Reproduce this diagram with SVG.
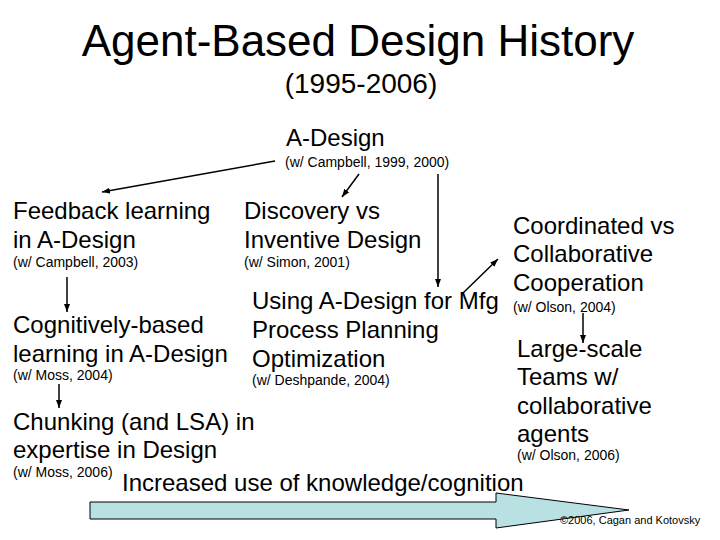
<svg xmlns="http://www.w3.org/2000/svg" width="720" height="540" viewBox="0 0 720 540">
<style>
text{font-family:"Liberation Sans",Arial,sans-serif;fill:#000}
.t{font-size:44px}
.st{font-size:28px}
.b{font-size:24px}
.s{font-size:14px}
.c{font-size:11px}
.con line{stroke:#000;stroke-width:1.5;fill:none}
</style>
<defs>
<marker id="ah" viewBox="0 0 8 6" refX="8" refY="3" markerWidth="8" markerHeight="6" markerUnits="userSpaceOnUse" orient="auto">
<path d="M0,0 L8,3 L0,6 z" fill="#000"/>
</marker>
</defs>
<rect width="720" height="540" fill="#fff"/>
<g id="title">
<text class="t" x="358" y="56" text-anchor="middle">Agent-Based Design History</text>
<text class="st" x="361" y="93" text-anchor="middle">(1995-2006)</text>
</g>
<g id="progress">
<path d="M90,502 L496,502 L496,493 L629,510 L496,528 L496,519 L90,519 Z" fill="#b9e0e3" stroke="#000" stroke-width="1"/>
<text class="b" x="122" y="491">Increased use of knowledge/cognition</text>
</g>
<g id="a-design">
<text class="b" x="286" y="146">A-Design</text>
<text class="s" x="285" y="167">(w/ Campbell, 1999, 2000)</text>
</g>
<g id="feedback">
<text class="b" x="13" y="219">Feedback learning</text>
<text class="b" x="13" y="248">in A-Design</text>
<text class="s" x="13" y="267">(w/ Campbell, 2003)</text>
</g>
<g id="cognitive">
<text class="b" x="13" y="333">Cognitively-based</text>
<text class="b" x="13" y="362">learning in A-Design</text>
<text class="s" x="13" y="380">(w/ Moss, 2004)</text>
</g>
<g id="chunking">
<text class="b" x="13" y="430">Chunking (and LSA) in</text>
<text class="b" x="13" y="458">expertise in Design</text>
<text class="s" x="13" y="477">(w/ Moss, 2006)</text>
</g>
<g id="discovery">
<text class="b" x="244" y="219">Discovery vs</text>
<text class="b" x="244" y="248">Inventive Design</text>
<text class="s" x="244" y="267">(w/ Simon, 2001)</text>
</g>
<g id="mfg">
<text class="b" x="252" y="309">Using A-Design for Mfg</text>
<text class="b" x="252" y="338">Process Planning</text>
<text class="b" x="252" y="367">Optimization</text>
<text class="s" x="252" y="385">(w/ Deshpande, 2004)</text>
</g>
<g id="coordinated">
<text class="b" x="513" y="234">Coordinated vs</text>
<text class="b" x="513" y="262">Collaborative</text>
<text class="b" x="513" y="291">Cooperation</text>
<text class="s" x="513" y="312">(w/ Olson, 2004)</text>
</g>
<g id="teams">
<text class="b" x="517" y="357">Large-scale</text>
<text class="b" x="517" y="385">Teams w/</text>
<text class="b" x="517" y="414">collaborative</text>
<text class="b" x="517" y="442">agents</text>
<text class="s" x="517" y="460">(w/ Olson, 2006)</text>
</g>
<g id="copyright">
<text class="c" x="560" y="524">©2006, Cagan and Kotovsky</text>
</g>
<g id="connectors" class="con">
<line x1="275" y1="161" x2="102" y2="192" marker-end="url(#ah)"/>
<line x1="359" y1="174" x2="342" y2="197" marker-end="url(#ah)"/>
<line x1="438" y1="174" x2="438" y2="287" marker-end="url(#ah)"/>
<line x1="462" y1="294" x2="498" y2="259" marker-end="url(#ah)"/>
<line x1="67" y1="277" x2="67" y2="312" marker-end="url(#ah)"/>
<line x1="59" y1="384" x2="59" y2="408" marker-end="url(#ah)"/>
<line x1="583" y1="313" x2="583" y2="343" marker-end="url(#ah)"/>
</g>
</svg>
